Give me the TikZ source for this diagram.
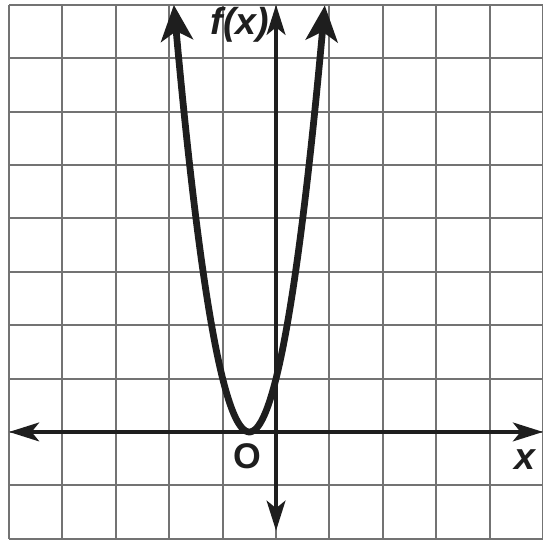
\documentclass[tikz,border=0pt]{standalone}
\usepackage{fontspec}
\setmainfont{Liberation Sans}
\usepackage{tikz}
\usetikzlibrary{arrows.meta}
\definecolor{gridgray}{RGB}{115,115,115}
\definecolor{inkdark}{RGB}{30,30,30}
\tikzset{
  gridline/.style={draw=gridgray, line width=1.1pt},
  axisline/.style={draw=inkdark, line width=2pt,
    {Stealth[length=16pt, width=10pt, inset=4pt]}-{Stealth[length=16pt, width=10pt, inset=4pt]}},
  curveline/.style={draw=inkdark, line width=3.6pt,
    {Stealth[length=19pt, width=17pt, inset=5pt]}-{Stealth[length=19pt, width=17pt, inset=5pt]}},
  axislabel/.style={font=\fontsize{20}{22}\selectfont\bfseries\itshape, text=inkdark}
}
\begin{document}
\begin{tikzpicture}
    \useasboundingbox (-5.17,-2.02) rectangle (5.0,8.09);
    \fill[white] (-5.17,-2.02) rectangle (5.0,8.09);
    \draw[gridline] (-5,-2) grid (5,8);
    % axes
    \coordinate (xl) at (-5,0);
    \coordinate (xr) at (5,0);
    \coordinate (yb) at (0,-1.85);
    \coordinate (yt) at (0,8);
    \draw[axisline] (xl) -- (xr);
    \draw[axisline] (yb) -- (yt);
    % f(x) = (2x+1)^2
    \draw[curveline] plot[domain=-1.914:0.914, samples=120, smooth]
      (\x, {4*(\x+0.5)^2});
    \node[axislabel] (fx) at (-0.68,7.63) {f(x)};
    \node[axislabel] (xlab) at (4.67,-0.52) {x};
    \node[font=\fontsize{19}{22}\selectfont\bfseries, text=inkdark] (orig) at (-0.54,-0.45) {O};
  \end{tikzpicture}
\end{document}
